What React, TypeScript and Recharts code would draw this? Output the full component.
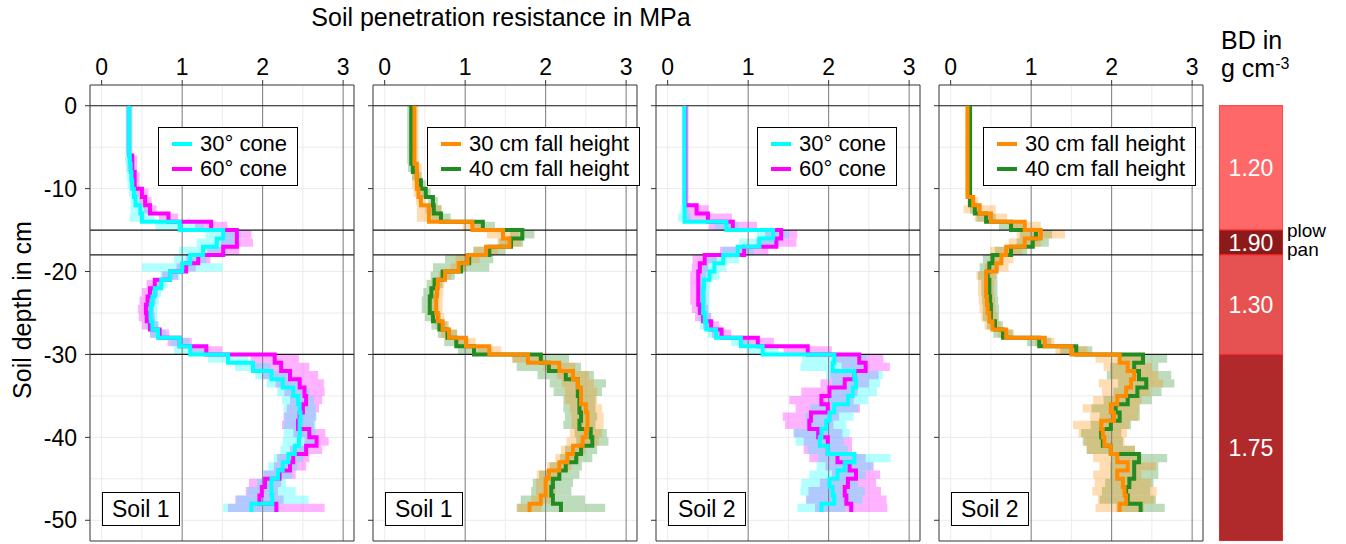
import {
  LineChart, Line, XAxis, YAxis, ReferenceArea, ReferenceLine, BarChart, Bar, LabelList,
} from 'recharts';

const FONT = '"Liberation Sans", Arial, sans-serif';

// depth edges of the 1 cm measuring intervals (cm)
const DEPTH_EDGES = [
  0, -1, -2, -3, -4, -5, -6, -7, -8, -9, -10, -11, -12, -13, -14, -15, -16, -17, -18, -19, -20,
  -21, -22, -23, -24, -25, -26, -27, -28, -29, -30, -31, -32, -33, -34, -35, -36, -37, -38, -39, -40,
  -41, -42, -43, -44, -45, -46, -47, -48, -49,
];

const X_TICKS = [0, 1, 2, 3];
const X_MINOR = [0, 0.5, 1.5, 2.5];
const Y_TICKS = [0, -10, -20, -30, -40, -50];
const Y_MINOR = [0, -5, -10, -15, -20, -25, -30, -35, -40, -45, -50];
const LAYER_LINES = [0, -15, -18, -30];
const X_DOMAIN = [-0.145, 3.135];
const Y_DOMAIN = [-52.5, 2.5];

// Soil 1, cone angle
const S1_CONE30 = [
  0.34, 0.34, 0.34, 0.34, 0.34, 0.34, 0.35, 0.36, 0.37, 0.38, 0.40, 0.42,
  0.48, 0.50, 0.97, 1.51, 1.43, 1.26, 1.10, 1.00, 0.85,
  0.74, 0.66, 0.63, 0.61, 0.61, 0.63, 0.70, 0.97, 1.10,
  1.57, 1.88, 2.11, 2.25, 2.38, 2.44, 2.46, 2.47, 2.46, 2.46,
  2.45, 2.40, 2.32, 2.25, 2.19, 2.11, 2.11, 2.12, 1.86,
];
const S1_CONE30_SD = [
  0.04, 0.04, 0.04, 0.04, 0.04, 0.04, 0.06, 0.06, 0.06, 0.06, 0.06, 0.06,
  0.12, 0.15, 0.30, 0.22, 0.25, 0.30, 0.20, 0.50, 0.12,
  0.08, 0.08, 0.08, 0.08, 0.08, 0.08, 0.10, 0.12, 0.20,
  0.25, 0.22, 0.20, 0.20, 0.20, 0.20, 0.20, 0.20, 0.20, 0.20,
  0.20, 0.18, 0.18, 0.18, 0.18, 0.18, 0.30, 0.45, 0.35,
];
const S1_CONE60 = [
  0.34, 0.34, 0.34, 0.34, 0.34, 0.34, 0.38, 0.38, 0.41, 0.41, 0.50, 0.54,
  0.60, 0.83, 1.36, 1.68, 1.68, 1.51, 1.20, 1.05, 0.85,
  0.66, 0.60, 0.57, 0.55, 0.56, 0.60, 0.72, 0.97, 1.30,
  2.15, 2.23, 2.34, 2.46, 2.52, 2.54, 2.50, 2.46, 2.44, 2.58,
  2.67, 2.54, 2.38, 2.34, 2.21, 2.03, 1.99, 1.96, 2.17,
];
const S1_CONE60_SD = [
  0.04, 0.04, 0.04, 0.04, 0.04, 0.04, 0.06, 0.06, 0.06, 0.06, 0.08, 0.08,
  0.08, 0.12, 0.20, 0.18, 0.20, 0.20, 0.15, 0.12, 0.10,
  0.10, 0.10, 0.10, 0.10, 0.10, 0.10, 0.12, 0.15, 0.20,
  0.30, 0.35, 0.35, 0.30, 0.25, 0.20, 0.20, 0.20, 0.20, 0.20,
  0.15, 0.20, 0.20, 0.20, 0.20, 0.20, 0.20, 0.30, 0.60,
];

// Soil 1, fall height
const S1_FALL30 = [
  0.37, 0.37, 0.37, 0.37, 0.37, 0.37, 0.37, 0.40, 0.40, 0.40, 0.42, 0.45,
  0.55, 0.55, 1.09, 1.47, 1.55, 1.26, 1.03, 0.92, 0.75,
  0.66, 0.65, 0.64, 0.64, 0.66, 0.72, 0.80, 1.01, 1.30,
  1.78, 2.17, 2.34, 2.40, 2.44, 2.44, 2.50, 2.52, 2.52, 2.50,
  2.46, 2.34, 2.27, 2.17, 2.04, 2.00, 2.00, 1.94, 1.80,
];
const S1_FALL30_SD = [
  0.05, 0.05, 0.05, 0.05, 0.05, 0.05, 0.05, 0.06, 0.06, 0.06, 0.06, 0.06,
  0.15, 0.15, 0.12, 0.20, 0.15, 0.15, 0.15, 0.10, 0.08,
  0.08, 0.08, 0.08, 0.08, 0.08, 0.08, 0.10, 0.12, 0.15,
  0.20, 0.20, 0.20, 0.20, 0.20, 0.20, 0.20, 0.20, 0.20, 0.20,
  0.20, 0.15, 0.15, 0.15, 0.15, 0.12, 0.12, 0.12, 0.15,
];
const S1_FALL40 = [
  0.33, 0.33, 0.33, 0.33, 0.33, 0.33, 0.33, 0.35, 0.40, 0.45, 0.51, 0.60,
  0.61, 0.70, 1.22, 1.71, 1.57, 1.30, 1.05, 0.95, 0.72,
  0.62, 0.58, 0.56, 0.56, 0.60, 0.68, 0.78, 0.89, 1.11,
  1.94, 2.04, 2.25, 2.40, 2.40, 2.42, 2.42, 2.44, 2.42, 2.56,
  2.58, 2.44, 2.38, 2.25, 2.17, 2.09, 2.07, 2.09, 2.19,
];
const S1_FALL40_SD = [
  0.05, 0.05, 0.05, 0.05, 0.05, 0.05, 0.05, 0.06, 0.06, 0.06, 0.06, 0.06,
  0.10, 0.12, 0.15, 0.15, 0.15, 0.20, 0.30, 0.35, 0.15,
  0.10, 0.10, 0.10, 0.10, 0.10, 0.10, 0.12, 0.15, 0.20,
  0.35, 0.40, 0.35, 0.35, 0.30, 0.20, 0.20, 0.20, 0.20, 0.20,
  0.20, 0.20, 0.20, 0.20, 0.25, 0.25, 0.25, 0.40, 0.55,
];

// Soil 2, cone angle
const S2_CONE30 = [
  0.21, 0.21, 0.21, 0.21, 0.21, 0.21, 0.21, 0.21, 0.21, 0.21, 0.21, 0.21,
  0.21, 0.21, 0.73, 1.31, 1.14, 0.87, 0.69, 0.58, 0.52,
  0.45, 0.44, 0.44, 0.44, 0.46, 0.48, 0.60, 0.91, 1.18,
  2.07, 2.05, 2.32, 2.34, 2.30, 2.24, 2.07, 2.01, 1.97, 1.91,
  1.89, 1.99, 2.32, 2.20, 2.11, 2.01, 2.05, 2.07, 1.91,
];
const S2_CONE30_SD = [
  0.03, 0.03, 0.03, 0.03, 0.03, 0.03, 0.03, 0.03, 0.03, 0.03, 0.03, 0.03,
  0.05, 0.08, 0.15, 0.20, 0.25, 0.20, 0.20, 0.15, 0.12,
  0.08, 0.08, 0.08, 0.08, 0.08, 0.08, 0.10, 0.12, 0.20,
  0.40, 0.40, 0.35, 0.30, 0.30, 0.25, 0.30, 0.30, 0.25, 0.35,
  0.30, 0.25, 0.45, 0.35, 0.35, 0.35, 0.40, 0.35, 0.30,
];
const S2_CONE60 = [
  0.22, 0.22, 0.22, 0.22, 0.22, 0.22, 0.22, 0.22, 0.22, 0.22, 0.22, 0.22,
  0.36, 0.50, 0.81, 1.41, 1.35, 0.95, 0.46, 0.40, 0.38,
  0.38, 0.38, 0.38, 0.40, 0.44, 0.54, 0.67, 1.12, 1.74,
  2.38, 2.46, 2.32, 2.20, 2.01, 1.91, 1.99, 1.78, 1.76, 1.87,
  1.99, 1.99, 2.11, 2.26, 2.34, 2.24, 2.20, 2.22, 2.28,
];
const S2_CONE60_SD = [
  0.04, 0.04, 0.04, 0.04, 0.04, 0.04, 0.04, 0.04, 0.04, 0.04, 0.04, 0.04,
  0.15, 0.30, 0.30, 0.20, 0.25, 0.30, 0.15, 0.10, 0.10,
  0.10, 0.10, 0.10, 0.10, 0.10, 0.10, 0.12, 0.20, 0.30,
  0.30, 0.30, 0.30, 0.30, 0.35, 0.40, 0.40, 0.35, 0.30, 0.30,
  0.30, 0.30, 0.35, 0.30, 0.30, 0.35, 0.45, 0.50, 0.45,
];

// Soil 2, fall height
const S2_FALL30 = [
  0.21, 0.21, 0.21, 0.21, 0.21, 0.21, 0.21, 0.21, 0.21, 0.21, 0.21, 0.28,
  0.36, 0.50, 0.92, 1.12, 0.92, 0.69, 0.63, 0.57, 0.44,
  0.44, 0.44, 0.45, 0.46, 0.48, 0.52, 0.69, 1.17, 1.50,
  2.10, 2.20, 2.28, 2.24, 2.18, 2.07, 1.99, 2.03, 1.87, 1.89,
  1.91, 1.99, 2.07, 2.20, 2.07, 2.14, 2.16, 2.18, 2.10,
];
const S2_FALL30_SD = [
  0.03, 0.03, 0.03, 0.03, 0.03, 0.03, 0.03, 0.03, 0.03, 0.03, 0.03, 0.06,
  0.20, 0.20, 0.20, 0.30, 0.20, 0.20, 0.15, 0.15, 0.12,
  0.10, 0.10, 0.10, 0.10, 0.10, 0.10, 0.10, 0.12, 0.20,
  0.30, 0.30, 0.30, 0.40, 0.30, 0.30, 0.35, 0.30, 0.35, 0.30,
  0.25, 0.30, 0.30, 0.35, 0.30, 0.35, 0.40, 0.35, 0.30,
];
const S2_FALL40 = [
  0.24, 0.24, 0.24, 0.24, 0.24, 0.24, 0.24, 0.24, 0.24, 0.24, 0.24, 0.24,
  0.30, 0.44, 0.75, 1.06, 1.02, 0.75, 0.52, 0.48, 0.46,
  0.48, 0.48, 0.49, 0.50, 0.50, 0.55, 0.65, 1.10, 1.56,
  2.39, 2.28, 2.34, 2.43, 2.32, 2.20, 2.05, 2.10, 1.99, 1.87,
  1.89, 1.99, 2.34, 2.28, 2.28, 2.22, 2.18, 2.20, 2.36,
];
const S2_FALL40_SD = [
  0.03, 0.03, 0.03, 0.03, 0.03, 0.03, 0.03, 0.03, 0.03, 0.03, 0.03, 0.03,
  0.06, 0.12, 0.15, 0.20, 0.20, 0.20, 0.12, 0.12, 0.12,
  0.10, 0.10, 0.10, 0.10, 0.10, 0.10, 0.12, 0.15, 0.20,
  0.30, 0.30, 0.40, 0.35, 0.30, 0.30, 0.30, 0.25, 0.25, 0.25,
  0.25, 0.30, 0.35, 0.30, 0.30, 0.30, 0.30, 0.35, 0.30,
];

// bulk density layers
const BD_TOP = [0, -15, -18, -30];
const BD_BOTTOM = [-15, -18, -30, -52.5];
const BD_LABELS = ['1.20', '1.90', '1.30', '1.75'];
const BD_COLORS = ['#ff6868', '#8c1a1a', '#e65252', '#b02a2c'];

const CYAN = '#00ffff';
const MAGENTA = '#ff00ff';
const ORANGE = '#ff8c00';
const GREEN = '#228b22';

type Series = { name: string; color: string; mean: number[]; sd: number[] };

const PANELS: { left: number; soil: string; legendLeft: number; series: Series[] }[] = [
  {
    left: 90, soil: 'Soil 1', legendLeft: 158,
    series: [
      { name: '30° cone', color: CYAN, mean: S1_CONE30, sd: S1_CONE30_SD },
      { name: '60° cone', color: MAGENTA, mean: S1_CONE60, sd: S1_CONE60_SD },
    ],
  },
  {
    left: 373, soil: 'Soil 1', legendLeft: 144,
    series: [
      { name: '30 cm fall height', color: ORANGE, mean: S1_FALL30, sd: S1_FALL30_SD },
      { name: '40 cm fall height', color: GREEN, mean: S1_FALL40, sd: S1_FALL40_SD },
    ],
  },
  {
    left: 656, soil: 'Soil 2', legendLeft: 191,
    series: [
      { name: '30° cone', color: CYAN, mean: S2_CONE30, sd: S2_CONE30_SD },
      { name: '60° cone', color: MAGENTA, mean: S2_CONE60, sd: S2_CONE60_SD },
    ],
  },
  {
    left: 939, soil: 'Soil 2', legendLeft: 134,
    series: [
      { name: '30 cm fall height', color: ORANGE, mean: S2_FALL30, sd: S2_FALL30_SD },
      { name: '40 cm fall height', color: GREEN, mean: S2_FALL40, sd: S2_FALL40_SD },
    ],
  },
];

const CHART_W = 359;
const CHART_H = 544;
const MARGIN = { top: 55, right: 5, bottom: 3, left: 50 };

function Panel({ left, soil, legendLeft, series, first }: {
  left: number; soil: string; legendLeft: number; series: Series[]; first: boolean;
}) {
  const last = DEPTH_EDGES.length - 2;
  // step rows: value of each interval placed at its top edge, last value repeated at the bottom edge
  const rows = DEPTH_EDGES.map((depth, i) => ({
    depth,
    a: series[0].mean[Math.min(i, last)],
    b: series[1].mean[Math.min(i, last)],
  }));
  const drawOrder = [series[1], series[0]];

  return (
    <div style={{ position: 'absolute', left: left - 90, top: 0, width: CHART_W, height: CHART_H }}>
      <LineChart width={CHART_W} height={CHART_H} data={rows} layout="vertical" margin={MARGIN}>
        <XAxis
          type="number" domain={X_DOMAIN} allowDataOverflow ticks={X_TICKS} interval={0}
          orientation="top" height={30} tickSize={5} tickMargin={5} axisLine={false}
          tickLine={{ stroke: '#333' }} tick={{ fill: '#000', fontSize: 23 }}
        />
        <YAxis
          type="number" dataKey="depth" domain={Y_DOMAIN} allowDataOverflow reversed
          ticks={Y_TICKS} interval={0}
          width={40} tickSize={5} tickMargin={8} axisLine={false}
          tickLine={{ stroke: '#333' }} tick={{ fill: '#000', fontSize: 23 }}
          tickFormatter={first ? (v: number) => String(v) : () => ''}
        />
        {X_MINOR.map((x) => (
          <ReferenceLine key={`gx${x}`} x={x} stroke="#ebebeb" strokeWidth={1} zIndex={-100} />
        ))}
        {Y_MINOR.map((y) => (
          <ReferenceLine key={`gy${y}`} y={y} stroke="#ebebeb" strokeWidth={1} zIndex={-100} />
        ))}
        {drawOrder.map((s) =>
          s.mean.map((v, i) => (
            <ReferenceArea
              key={`${s.name}-${i}`}
              x1={v - s.sd[i]} x2={v + s.sd[i]}
              y1={DEPTH_EDGES[i]} y2={DEPTH_EDGES[i + 1]}
              fill={s.color} fillOpacity={0.3} stroke="none" ifOverflow="visible" zIndex={100}
            />
          )),
        )}
        {X_TICKS.filter((x) => x > 0).map((x) => (
          <ReferenceLine key={`vx${x}`} x={x} stroke="#7a7a7a" strokeWidth={1} zIndex={300} />
        ))}
        {LAYER_LINES.map((y) => (
          <ReferenceLine key={`ly${y}`} y={y} stroke="#1a1a1a" strokeWidth={1.2} zIndex={300} />
        ))}
        <ReferenceArea
          x1={X_DOMAIN[0]} x2={X_DOMAIN[1]} y1={Y_DOMAIN[0]} y2={Y_DOMAIN[1]}
          fill="none" stroke="#333" strokeWidth={1} zIndex={450}
        />
        <Line
          dataKey="b" type="stepBefore" stroke={series[1].color} strokeWidth={4}
          dot={false} activeDot={false} isAnimationActive={false}
        />
        <Line
          dataKey="a" type="stepBefore" stroke={series[0].color} strokeWidth={4}
          dot={false} activeDot={false} isAnimationActive={false}
        />
      </LineChart>
      <div
        style={{
          position: 'absolute', left: legendLeft, top: 127, background: '#fff',
          border: '1.5px solid #000', padding: '3px 10px 4px 13px', fontSize: 22, lineHeight: '25px',
          whiteSpace: 'nowrap',
        }}
      >
        {series.map((s) => (
          <div key={s.name} style={{ display: 'flex', alignItems: 'center' }}>
            <span style={{ display: 'inline-block', width: 20, height: 4, background: s.color, marginRight: 8 }} />
            {s.name}
          </div>
        ))}
      </div>
      <div
        style={{
          position: 'absolute', left: 102, top: 492, background: '#fff', border: '1.5px solid #000',
          padding: '0 9px', fontSize: 23, lineHeight: '32px', whiteSpace: 'nowrap',
        }}
      >
        {soil}
      </div>
    </div>
  );
}

function BulkDensity() {
  const row: Record<string, number | string> = { name: 'BD' };
  BD_TOP.forEach((t, i) => {
    row[`l${i}`] = BD_BOTTOM[i] - t;
  });
  return (
    <div style={{ position: 'absolute', left: 1219, top: 0 }}>
      <BarChart
        width={64} height={CHART_H} data={[row]} barCategoryGap={0}
        margin={{ top: 85, right: 0, bottom: 3, left: 0 }}
      >
        <XAxis dataKey="name" hide />
        <YAxis type="number" domain={Y_DOMAIN} allowDataOverflow hide />
        {BD_TOP.map((_, i) => (
          <Bar
            key={i} dataKey={`l${i}`} stackId="bd" fill={BD_COLORS[i]} stroke="#ff2a2a" strokeWidth={1}
            isAnimationActive={false}
          >
            <LabelList
              dataKey={`l${i}`} position="center" fill="#fff" fontSize={23}
              formatter={() => BD_LABELS[i]}
            />
          </Bar>
        ))}
      </BarChart>
    </div>
  );
}

export default function App() {
  return (
    <div
      style={{
        position: 'absolute', left: 0, top: 0, width: 1346, height: 544, background: '#fff',
        fontFamily: FONT, color: '#000', overflow: 'hidden',
      }}
    >
      <div style={{ position: 'absolute', left: 0, top: 3, width: 1002, textAlign: 'center', fontSize: 25 }}>
        Soil penetration resistance in MPa
      </div>
      <div
        style={{
          position: 'absolute', left: 22 - 150, top: 310 - 15, width: 300, textAlign: 'center',
          fontSize: 25, lineHeight: '30px', transform: 'rotate(-90deg)',
        }}
      >
        Soil depth in cm
      </div>
      {PANELS.map((p, i) => (
        <Panel key={i} {...p} first={i === 0} />
      ))}
      <BulkDensity />
      <div style={{ position: 'absolute', left: 1221, top: 26, fontSize: 25, lineHeight: '28px' }}>
        BD in
        <br />
        g cm<sup style={{ fontSize: 16, verticalAlign: 'top', position: 'relative', top: -4 }}>-3</sup>
      </div>
      <div style={{ position: 'absolute', left: 1287, top: 221, fontSize: 19, lineHeight: '19px' }}>
        plow
        <br />
        pan
      </div>
    </div>
  );
}
